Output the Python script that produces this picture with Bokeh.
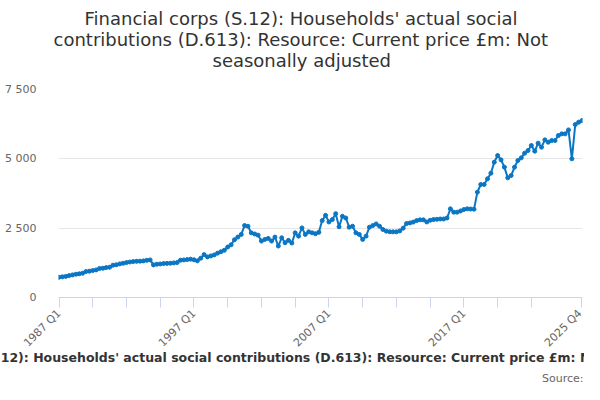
from bokeh.plotting import figure
from bokeh.models import Range1d, FixedTicker, Title, ColumnDataSource
from bokeh.embed import file_html
from bokeh.resources import INLINE

years = list(range(1987, 2026))
categories = [f"{y} Q{q}" for y in years for q in range(1, 5)]

values = [
    730, 745, 760, 790,        # 1987
    815, 840, 855, 876,        # 1988
    936, 950, 972, 995,        # 1989
    1044, 1055, 1080, 1092,    # 1990
    1164, 1180, 1212, 1235,    # 1991
    1260, 1280, 1296, 1305,    # 1992
    1310, 1320, 1340, 1356,    # 1993
    1176, 1200, 1210, 1224,    # 1994
    1230, 1236, 1248, 1260,    # 1995
    1346, 1355, 1368, 1382,    # 1996
    1360, 1321, 1417, 1546,    # 1997
    1464, 1500, 1535, 1600,    # 1998
    1650, 1703, 1821, 1900,    # 1999
    2082, 2178, 2274, 2595,    # 2000
    2570, 2331, 2290, 2249,    # 2001
    2035, 2095, 2131, 2035,    # 2002
    2178, 1856, 2153, 1975,    # 2003
    2060, 1964, 2331, 2213,    # 2004
    2510, 2274, 2367, 2331,    # 2005
    2300, 2350, 2773, 2963,    # 2006
    2724, 2810, 3024, 2550,    # 2007
    2927, 2867, 2535, 2570,    # 2008
    2331, 2274, 2095, 2213,    # 2009
    2535, 2595, 2653, 2570,    # 2010
    2452, 2392, 2370, 2367,    # 2011
    2367, 2400, 2500, 2667,    # 2012
    2688, 2720, 2773, 2800,    # 2013
    2800, 2724, 2785, 2810,    # 2014
    2820, 2831, 2831, 2867,    # 2015
    3197, 3077, 3077, 3120,    # 2016
    3173, 3197, 3190, 3185,    # 2017
    3798, 4075, 4075, 4280,    # 2018
    4483, 4880, 5120, 4964,    # 2019
    4700, 4315, 4398, 4700,    # 2020
    4940, 5036, 5204, 5300,    # 2021
    5480, 5276, 5564, 5420,    # 2022
    5684, 5600, 5660, 5660,    # 2023
    5840, 5900, 5900, 6044,    # 2024
    5000, 6235, 6320, 6380,    # 2025
]

x_tick_labels = ["1987 Q1", "1997 Q1", "2007 Q1", "2017 Q1", "2025 Q4"]
y_ticks = [0, 2500, 5000, 7500]
y_tick_labels = ["0", "2 500", "5 000", "7 500"]

title_lines = [
    "Financial corps (S.12): Households' actual social",
    "contributions (D.613): Resource: Current price £m: Not",
    "seasonally adjusted",
]
subtitle = ("Financial corps (S.12): Households' actual social contributions (D.613): "
            "Resource: Current price £m: Not seasonally adjusted")
source_text = "Source:"

FONT = "DejaVu Sans"
LINE_COLOR = "#0a76c4"

idx = list(range(len(categories)))
src = ColumnDataSource(dict(x=idx, y=values, cat=categories))

p = figure(width=584, height=384, output_backend="svg", toolbar_location=None,
           title_location=None,
           x_range=Range1d(-0.15, len(categories) - 0.85), y_range=Range1d(0, 7500),
           min_border_left=58, min_border_right=2, min_border_top=0, min_border_bottom=0)
p.outline_line_color = None
p.background_fill_color = "white"
p.border_fill_color = "white"

p.line("x", "y", source=src, line_color=LINE_COLOR, line_width=2)
p.scatter("x", "y", source=src, size=4, fill_color=LINE_COLOR, line_color=LINE_COLOR)

# x axis
tick_pos = list(range(0, 150, 10)) + [len(categories) - 1]
label_pos = [categories.index(c) for c in x_tick_labels]
overrides = {t: "" for t in tick_pos}
for pos, lab in zip(label_pos, x_tick_labels):
    overrides[pos] = lab
xa = p.xaxis[0]
xa.ticker = FixedTicker(ticks=tick_pos)
xa.major_label_overrides = overrides
xa.major_label_orientation = 0.7854
xa.axis_line_color = "#ccd6eb"
xa.major_tick_line_color = "#ccd6eb"
xa.major_tick_in = 0
xa.major_tick_out = 10
xa.minor_tick_line_color = None
xa.major_label_text_font = FONT
xa.major_label_text_font_size = "11px"
xa.major_label_text_color = "#666666"
xa.major_label_standoff = 4

# y axis
ya = p.yaxis[0]
ya.ticker = FixedTicker(ticks=y_ticks)
ya.major_label_overrides = {t: l for t, l in zip(y_ticks, y_tick_labels)}
ya.axis_line_color = None
ya.major_tick_line_color = None
ya.minor_tick_line_color = None
ya.major_label_text_font = FONT
ya.major_label_text_font_size = "11px"
ya.major_label_text_color = "#666666"
ya.major_label_standoff = 16

p.xgrid.grid_line_color = None
p.ygrid.grid_line_color = "#e6e6e6"
p.ygrid.ticker = FixedTicker(ticks=y_ticks)


def spacer(so):
    return Title(text=" ", text_font_size="1px", standoff=so, text_color="white")


# above panels: first added is closest to the frame
p.add_layout(spacer(17.1), "above")
title_offsets = [26, -5, 154]
for line, off in reversed(list(zip(title_lines, title_offsets))):
    p.add_layout(Title(text=line, align="left", offset=off, standoff=-2,
                       text_font=FONT, text_font_size="18px", text_font_style="normal",
                       text_color="#333333"), "above")
p.add_layout(spacer(2.7), "above")

# below panels
p.add_layout(Title(text=subtitle, align="left", offset=-188, standoff=-16,
                   vertical_align="top",
                   text_font=FONT, text_font_size="12.5px", text_font_style="bold",
                   text_color="#333333"), "below")
p.add_layout(spacer(8.0), "below")
p.add_layout(Title(text=source_text, align="right", offset=-1, standoff=0,
                   text_font=FONT, text_font_size="11px", text_font_style="normal",
                   text_color="#666666"), "below")

open("out.html", "w").write(file_html(p, INLINE))
